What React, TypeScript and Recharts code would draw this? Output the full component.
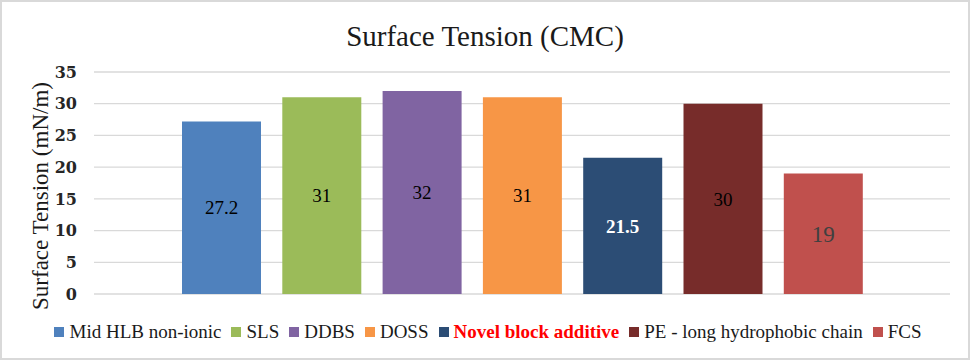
import React from 'react';
import { BarChart, Bar, XAxis, YAxis, CartesianGrid, Legend, LabelList, Label } from 'recharts';

const categories = ['CMC'];
const seriesNames = [
  'Mid HLB non-ionic',
  'SLS',
  'DDBS',
  'DOSS',
  'Novel block additive',
  'PE - long hydrophobic chain',
  'FCS',
];
const seriesKeys = ['mid', 'sls', 'ddbs', 'doss', 'novel', 'pe', 'fcs'];
const seriesValues = [27.2, 31, 32, 31, 21.5, 30, 19];
const yTicks = [0, 5, 10, 15, 20, 25, 30, 35];

const colors = ['#4f81bd', '#9bbb59', '#8064a2', '#f79646', '#2c4d75', '#772c2a', '#c0504d'];
const labelFill = ['#000000', '#000000', '#000000', '#000000', '#ffffff', '#000000', '#404040'];
const labelWeight = ['normal', 'normal', 'normal', 'normal', 'bold', 'normal', 'normal'];
const labelSize = [19, 19, 19, 19, 19, 19, 23];

const data = categories.map((c) => {
  const row: Record<string, string | number> = { name: c };
  seriesKeys.forEach((k, i) => {
    row[k] = seriesValues[i];
  });
  return row;
});

const SERIF = '"Liberation Serif", "Times New Roman", serif';

const renderLegend = () => (
  <div
    style={{
      height: 48,
      boxSizing: 'border-box',
      paddingTop: 27,
      paddingLeft: 6,
      display: 'flex',
      justifyContent: 'center',
      alignItems: 'center',
      fontFamily: SERIF,
      fontSize: 19,
      lineHeight: '20px',
      whiteSpace: 'nowrap',
    }}
  >
    {seriesNames.map((n, i) => (
      <span
        key={n}
        style={{ display: 'inline-flex', alignItems: 'center', marginRight: i < seriesNames.length - 1 ? 10 : 0 }}
      >
        <span
          style={{ display: 'inline-block', width: 10, height: 10, background: colors[i], marginRight: 5 }}
        />
        <span style={{ color: i === 4 ? '#ff0000' : '#1a1a1a', fontWeight: i === 4 ? 'bold' : 'normal' }}>{n}</span>
      </span>
    ))}
  </div>
);

const renderYLabel = (props: any) => {
  const vb = props.viewBox || {};
  const x = (vb.x || 0) + 40;
  const y = (vb.y || 0) + (vb.height || 0) / 2 + 13;
  return (
    <text
      x={x}
      y={y}
      transform={`rotate(-90, ${x}, ${y})`}
      textAnchor="middle"
      dominantBaseline="central"
      fontFamily={SERIF}
      fontSize={23}
      fill="#1a1a1a"
    >
      Surface Tension (mN/m)
    </text>
  );
};

export default function App() {
  return (
    <div style={{ position: 'absolute', left: 0, top: 0, width: 970, height: 360, background: '#fff' }}>
      <div
        style={{
          position: 'absolute',
          left: 0,
          top: 19,
          width: 970,
          textAlign: 'center',
          fontFamily: SERIF,
          fontSize: 29,
          lineHeight: '34px',
          color: '#1a1a1a',
        }}
      >
        Surface Tension (CMC)
      </div>
      <BarChart
        width={970}
        height={360}
        data={data}
        margin={{ top: 72, right: 20, bottom: 18, left: 0 }}
        barSize={79}
        barGap={21.3}
      >
        <CartesianGrid vertical={false} stroke="#d9d9d9" strokeWidth={1.3} />
        <XAxis dataKey="name" hide />
        <YAxis
          width={94}
          domain={[0, 35]}
          ticks={yTicks}
          interval={0}
          axisLine={false}
          tickLine={false}
          tickSize={6}
          tickMargin={11}
          tick={{ fill: '#262626', fontFamily: '"DejaVu Serif", serif', fontWeight: 'bold', fontSize: 16 }}
        >
          <Label content={renderYLabel} />
        </YAxis>
        <Legend
          verticalAlign="bottom"
          content={renderLegend}
          wrapperStyle={{ left: 0, width: 970, height: 48 }}
        />
        {seriesKeys.map((k, i) => (
          <Bar key={k} dataKey={k} name={seriesNames[i]} fill={colors[i]} isAnimationActive={false}>
            <LabelList
              dataKey={k}
              position="center"
              fill={labelFill[i]}
              fontFamily={SERIF}
              fontSize={labelSize[i]}
              fontWeight={labelWeight[i]}
            />
          </Bar>
        ))}
      </BarChart>
      <div
        style={{
          position: 'absolute',
          left: 0,
          top: 0,
          width: 970,
          height: 360,
          boxSizing: 'border-box',
          border: '2px solid #d9d9d9',
          pointerEvents: 'none',
        }}
      />
    </div>
  );
}
